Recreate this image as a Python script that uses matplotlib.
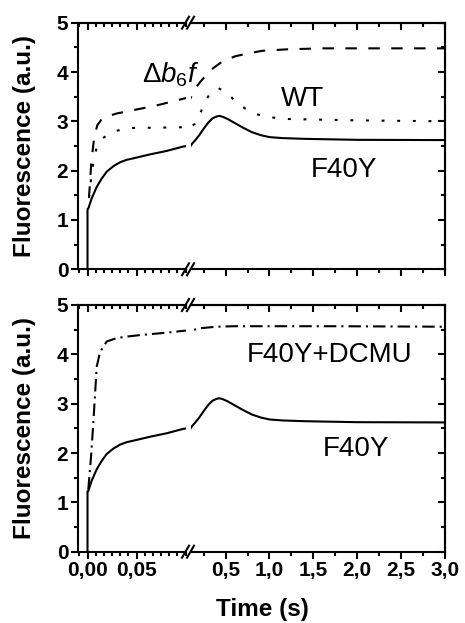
import matplotlib
matplotlib.use('Agg')
import matplotlib.pyplot as plt
from matplotlib.ticker import FixedLocator, MultipleLocator, NullFormatter
from matplotlib.lines import Line2D

plt.rcParams['font.family'] = ['Liberation Sans', 'DejaVu Sans']
plt.rcParams['mathtext.fontset'] = 'custom'
plt.rcParams['mathtext.rm'] = 'Liberation Sans'
plt.rcParams['mathtext.it'] = 'Liberation Sans:italic'
plt.rcParams['mathtext.bf'] = 'Liberation Sans:bold'

# F40Y (solid), same trace in both panels
t_f40y = [0.0, 0.0, 0.0008, 0.0043, 0.0094, 0.0145, 0.0196, 0.0264, 0.0332, 0.04, 0.0468,
          0.0638, 0.0808, 0.0978, 0.12, 0.16, 0.2, 0.25, 0.3, 0.35, 0.4, 0.43, 0.47,
          0.52, 0.6, 0.7, 0.8, 0.9, 1.0, 1.15, 1.4, 2.0, 3.0]
y_f40y = [0.0, 1.22, 1.23, 1.44, 1.67, 1.84, 1.98, 2.09, 2.17, 2.22, 2.25,
          2.33, 2.40, 2.49, 2.55, 2.63, 2.72, 2.85, 2.97, 3.06, 3.10, 3.11, 3.09,
          3.05, 2.97, 2.87, 2.78, 2.72, 2.68, 2.66, 2.645, 2.625, 2.62]

# delta b6f (dashed)
t_b6f = [0.0015, 0.004, 0.007, 0.01, 0.014, 0.02, 0.03, 0.04, 0.05, 0.06, 0.07, 0.08,
         0.09, 0.1, 0.15, 0.216, 0.33, 0.46, 0.61, 0.765, 0.917, 1.2, 1.6, 2.2, 3.0]
y_b6f = [1.45, 2.2, 2.7, 2.92, 3.03, 3.10, 3.16, 3.20, 3.24, 3.28, 3.32, 3.37,
         3.42, 3.47, 3.66, 3.81, 4.04, 4.21, 4.32, 4.38, 4.43, 4.46, 4.48, 4.48, 4.48]

# WT (dotted)
t_wt = [0.0015, 0.004, 0.007, 0.01, 0.015, 0.023, 0.03, 0.042, 0.05, 0.07, 0.09, 0.1,
        0.15, 0.2, 0.25, 0.3, 0.35, 0.42, 0.5, 0.576, 0.66, 0.746, 0.85, 0.935, 1.16,
        1.4, 2.0, 3.0]
y_wt = [1.45, 1.9, 2.3, 2.5, 2.65, 2.76, 2.81, 2.86, 2.87, 2.87, 2.88, 2.88,
        2.95, 3.12, 3.32, 3.50, 3.62, 3.67, 3.60, 3.47, 3.34, 3.23, 3.15, 3.10, 3.05,
        3.04, 3.02, 3.00]

# F40Y + DCMU (dash-dot)
t_dcmu = [0.0008, 0.0035, 0.0059, 0.0094, 0.0128, 0.0196, 0.0298, 0.04, 0.0536, 0.081,
          0.0995, 0.216, 0.4, 0.595, 1.0, 1.73, 3.0]
y_dcmu = [1.26, 1.9, 2.6, 3.75, 4.05, 4.26, 4.33, 4.36, 4.39, 4.44,
          4.48, 4.53, 4.56, 4.57, 4.57, 4.57, 4.56]

left_ticks = [0.0, 0.05]
left_labels = ['0,00', '0,05']
right_ticks = [0.5, 1.0, 1.5, 2.0, 2.5, 3.0]
right_labels = ['0,5', '1,0', '1,5', '2,0', '2,5', '3,0']
y_ticks = [0, 1, 2, 3, 4, 5]

W, H = 465, 623
fig = plt.figure(figsize=(W / 100, H / 100), dpi=100)

LW = 1.5
x_l0, x_l1, x_r0, x_r1 = 78, 185.5, 190.5, 445
panels = [(22.7, 269.3), (305, 551.7)]

dash_b6f = (5.5, 5.5)
dot_wt = (1.4, 6.1)
dashdot = (6.0, 2.4, 1.0, 2.4)


def style_axes(ax, left_side):
    ax.patch.set_visible(False)
    for s in ax.spines.values():
        s.set_linewidth(LW)
    ax.set_ylim(0, 5)
    ax.tick_params(which='both', width=LW, labelsize=15)
    ax.tick_params(which='major', length=5)
    ax.tick_params(which='minor', length=3)
    ax.tick_params(axis='x', which='both', direction='out', top=False)
    top = ax.secondary_xaxis('top')
    top.spines['top'].set_linewidth(LW)
    top.tick_params(which='both', direction='in', width=LW)
    top.tick_params(which='major', length=5)
    top.tick_params(which='minor', length=3)
    top.xaxis.set_major_formatter(NullFormatter())
    if left_side:
        ax.spines['right'].set_visible(False)
        ax.set_xlim(-0.0097, 0.1)
        ax.xaxis.set_major_locator(FixedLocator(left_ticks))
        ax.xaxis.set_minor_locator(MultipleLocator(0.05 / 6))
        top.xaxis.set_major_locator(FixedLocator(left_ticks))
        top.xaxis.set_minor_locator(MultipleLocator(0.05 / 6))
        ax.tick_params(axis='y', which='both', direction='out', right=False, pad=2)
        ax.set_yticks(y_ticks)
        ax.yaxis.set_minor_locator(MultipleLocator(0.5))
        for lab in ax.get_yticklabels():
            lab.set_fontweight('bold')
    else:
        ax.spines['left'].set_visible(False)
        ax.set_xlim(0.1, 3.0)
        ax.xaxis.set_major_locator(FixedLocator(right_ticks))
        ax.xaxis.set_minor_locator(MultipleLocator(0.25))
        top.xaxis.set_major_locator(FixedLocator(right_ticks))
        top.xaxis.set_minor_locator(MultipleLocator(0.25))
        ax.tick_params(axis='y', which='both', left=False, labelleft=False)
        rt = ax.secondary_yaxis('right')
        rt.spines['right'].set_linewidth(LW)
        rt.tick_params(which='both', direction='in', width=LW)
        rt.tick_params(which='major', length=5)
        rt.tick_params(which='minor', length=3)
        rt.set_yticks(y_ticks)
        rt.yaxis.set_minor_locator(MultipleLocator(0.5))
        rt.yaxis.set_major_formatter(NullFormatter())


axes = []
for i, (ptop, pbot) in enumerate(panels):
    b = 1 - pbot / H
    h = (pbot - ptop) / H
    axl = fig.add_axes([x_l0 / W, b, (x_l1 - x_l0) / W, h])
    axr = fig.add_axes([x_r0 / W, b, (x_r1 - x_r0) / W, h])
    for ax in (axl, axr):
        ax.plot(t_f40y, y_f40y, color='black', lw=LW)
        if i == 0:
            ax.plot(t_b6f, y_b6f, color='black', lw=LW, dashes=dash_b6f)
            ax.plot(t_wt, y_wt, color='black', lw=LW, dashes=dot_wt)
        else:
            ax.plot(t_dcmu, y_dcmu, color='black', lw=LW, dashes=dashdot)
    style_axes(axl, True)
    style_axes(axr, False)
    if i == 0:
        axl.set_xticklabels([])
        axr.set_xticklabels([])
    else:
        axl.set_xticklabels(left_labels, fontweight='bold', fontsize=15)
        axr.set_xticklabels(right_labels, fontweight='bold', fontsize=15)
    axl.tick_params(axis='x', pad=2)
    axr.tick_params(axis='x', pad=2)
    axes.append((axl, axr))

    # break marks
    for yp in (ptop, pbot):
        for xp in (x_l1, x_r0):
            fy = 1 - yp / H
            fig.add_artist(Line2D([(xp - 3.5) / W, (xp + 3.5) / W],
                                  [fy - 6 / H, fy + 6 / H],
                                  transform=fig.transFigure, color='black', lw=LW))

    fig.text(24 / W, b + h / 2, 'Fluorescence (a.u.)', rotation=90, ha='center',
             va='center', fontsize=17.5, fontweight='bold')

(top_l, top_r), (bot_l, bot_r) = axes
top_l.text(0.0556, 3.78, r'$\Delta b_{6}f$', fontsize=20, ha='left', va='baseline',
           zorder=10)
top_r.text(1.375, 3.31, 'WT', fontsize=20, ha='center', va='baseline')
top_r.text(1.85, 1.87, 'F40Y', fontsize=20, ha='center', va='baseline')
bot_r.text(1.68, 3.85, 'F40Y+DCMU', fontsize=20, ha='center', va='baseline')
bot_r.text(1.98, 1.93, 'F40Y', fontsize=20, ha='center', va='baseline')

fig.text(262 / W, 1 - 616 / H, 'Time (s)', ha='center', va='baseline',
         fontsize=17.5, fontweight='bold')

fig.savefig('out.png', dpi=100)
